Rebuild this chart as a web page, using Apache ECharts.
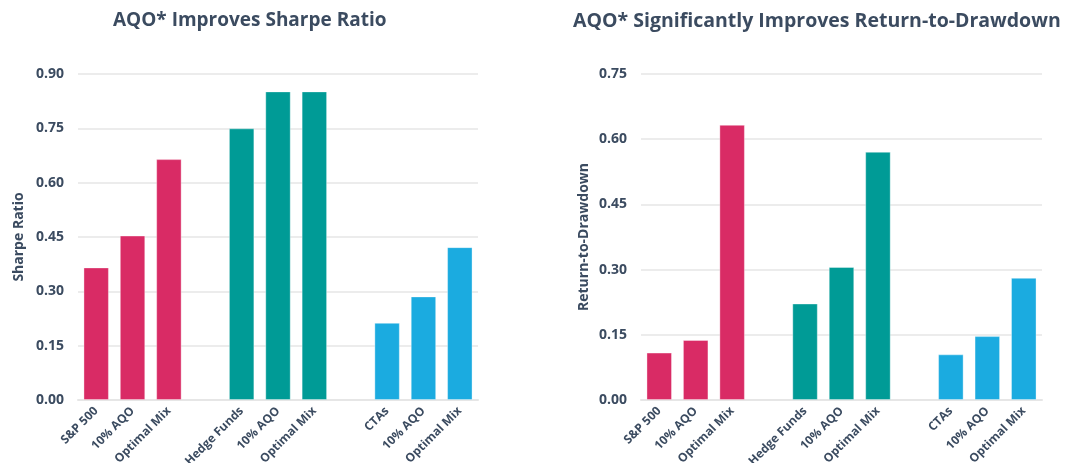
<!DOCTYPE html>
<html>
<head>
<meta charset="utf-8">
<script src="https://cdn.jsdelivr.net/npm/echarts@6/dist/echarts.min.js"></script>
<style>
  html, body { margin: 0; padding: 0; background: #fff; }
  #chart { width: 1069px; height: 463px; }
</style>
</head>
<body>
<div id="chart"></div>
<script>
// categories (blank slots separate the three groups)
const categories = ['S&P 500', '10% AQO', 'Optimal Mix', '', 'Hedge Funds', '10% AQO', 'Optimal Mix', '', 'CTAs', '10% AQO', 'Optimal Mix'];
const groupOf = [0, 0, 0, -1, 1, 1, 1, -1, 2, 2, 2];

const sharpeValues = [0.366, 0.454, 0.665, null, 0.750, 0.852, 0.852, null, 0.213, 0.286, 0.422];
const rtdValues = [0.109, 0.138, 0.633, null, 0.222, 0.306, 0.571, null, 0.105, 0.147, 0.281];

const sharpeTicks = { min: 0, max: 0.9, interval: 0.15 };
const rtdTicks = { min: 0, max: 0.75, interval: 0.15 };

const groupColors = ['#d92b65', '#009b96', '#1babe0'];
const textColor = '#3b4b60';
const gridColor = '#e6e6e6';
const font = '"Open Sans", sans-serif';

const chart = echarts.init(document.getElementById('chart'));

const toData = (values) => values.map((v, i) => (v === null ? '-' : {
  value: v,
  itemStyle: { color: groupColors[groupOf[i]] }
}));

const xAxisFor = (gridIndex) => ({
  type: 'category',
  gridIndex,
  data: categories,
  axisLine: { lineStyle: { color: gridColor, width: 2 } },
  axisTick: { show: false },
  axisLabel: {
    interval: 0,
    rotate: 45,
    margin: 9,
    color: textColor,
    fontSize: 12,
    fontWeight: 'bold',
    fontFamily: font
  }
});

const yAxisFor = (gridIndex, ticks, name, gap) => ({
  type: 'value',
  gridIndex,
  min: ticks.min,
  max: ticks.max,
  interval: ticks.interval,
  name,
  nameLocation: 'middle',
  nameGap: gap,
  nameTextStyle: { color: textColor, fontSize: 14, fontWeight: 'bold', fontFamily: font },
  axisLine: { show: false },
  axisTick: { show: false },
  splitLine: { lineStyle: { color: gridColor, width: 1.5 } },
  axisLabel: {
    color: textColor,
    fontSize: 14,
    fontWeight: 'bold',
    margin: 14,
    fontFamily: font,
    formatter: (v) => v.toFixed(2)
  }
});

chart.setOption({
  animation: false,
  title: [
    {
      text: 'AQO* Improves Sharpe Ratio',
      left: 108, top: 6,
      textStyle: { color: textColor, fontSize: 19, fontWeight: 'bold', fontFamily: font }
    },
    {
      text: 'AQO* Significantly Improves Return-to-Drawdown',
      left: 568, top: 6,
      textStyle: { color: textColor, fontSize: 19.5, fontWeight: 'bold', fontFamily: font }
    }
  ],
  grid: [
    { left: 78, top: 74, width: 400, height: 326, outerBoundsMode: 'none' },
    { left: 641, top: 74, width: 401, height: 326, outerBoundsMode: 'none' }
  ],
  xAxis: [xAxisFor(0), xAxisFor(1)],
  yAxis: [
    yAxisFor(0, sharpeTicks, 'Sharpe Ratio', 52),
    yAxisFor(1, rtdTicks, 'Return-to-Drawdown', 50)
  ],
  series: [
    {
      type: 'bar',
      xAxisIndex: 0,
      yAxisIndex: 0,
      barWidth: '70%',
      itemStyle: { borderColor: 'rgba(255,255,255,0.35)', borderWidth: 1 },
      data: toData(sharpeValues)
    },
    {
      type: 'bar',
      xAxisIndex: 1,
      yAxisIndex: 1,
      barWidth: '70%',
      itemStyle: { borderColor: 'rgba(255,255,255,0.35)', borderWidth: 1 },
      data: toData(rtdValues)
    }
  ]
});
</script>
</body>
</html>
